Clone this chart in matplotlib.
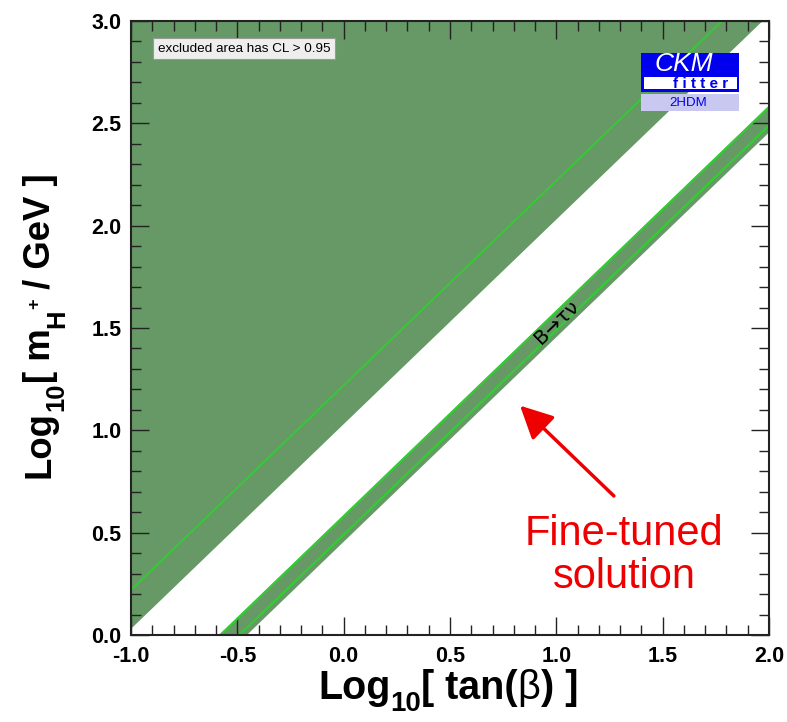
import matplotlib
matplotlib.use("Agg")
import matplotlib.pyplot as plt
from matplotlib.ticker import MultipleLocator, FormatStrFormatter
from matplotlib.patches import Rectangle
from matplotlib import font_manager

plt.rcParams['font.family'] = ['Liberation Sans', 'DejaVu Sans']
plt.rcParams['axes.unicode_minus'] = False

# ---- data ----
log_tanb = [-1.0, 2.0]                  # x end points of all boundaries
excl_edge = [0.03, 3.03]                # upper-left excluded region boundary
excl_line = [0.22, 3.22]                # light green contour inside excluded region
band_upper = [-0.41, 2.59]              # B->tau nu band upper edge
band_line_upper = [-0.42, 2.58]         # light green contour (upper)
band_line_lower = [-0.51, 2.49]         # light green contour (lower)
band_lower = [-0.54, 2.46]              # B->tau nu band lower edge
x_lim = [-1.0, 2.0]
y_lim = [0.0, 3.0]

dark = '#669966'
light = '#33cc33'
W, H = 787, 722

fig = plt.figure(figsize=(W / 100, H / 100), dpi=100)
ax = fig.add_axes([131/W, 1-635/H, (769-131)/W, (635-21)/H])

ax.fill_between(log_tanb, excl_edge, [y_lim[1] + 1, y_lim[1] + 1], color=dark, lw=0)
ax.plot(log_tanb, excl_line, color=light, lw=1.3)
ax.fill_between(log_tanb, band_lower, band_upper, color=dark, lw=0)
ax.plot(log_tanb, band_line_upper, color=light, lw=1.6)
ax.plot(log_tanb, band_line_lower, color=light, lw=1.6)

ax.set_xlim(x_lim)
ax.set_ylim(y_lim)

ax.xaxis.set_major_locator(MultipleLocator(0.5))
ax.xaxis.set_minor_locator(MultipleLocator(0.1))
ax.yaxis.set_major_locator(MultipleLocator(0.5))
ax.yaxis.set_minor_locator(MultipleLocator(0.1))
ax.xaxis.set_major_formatter(FormatStrFormatter('%.1f'))
ax.yaxis.set_major_formatter(FormatStrFormatter('%.1f'))
ax.tick_params(which='both', direction='in', top=True, right=True, width=1.0, color='#222222')
ax.tick_params(which='major', length=13, labelsize=15.5)
ax.tick_params(axis='x', which='major', pad=8)
ax.tick_params(axis='y', which='major', pad=7)
ax.tick_params(which='minor', length=7)
for lab in ax.get_xticklabels() + ax.get_yticklabels():
    lab.set_fontweight('bold')
for s in ax.spines.values():
    s.set_linewidth(1.5)
    s.set_color('#222222')

# ---- axis titles composed from pieces (low subscripts, as in the reference) ----
lab_family = ['Liberation Sans']
renderer = fig.canvas.get_renderer()


def compose(segs, x0, y0, size, target_len, vertical=False):
    """segs: (text, size ratio, drop ratio, weight, advance)"""
    def build(sz):
        arts = []
        pos = 0.0
        for txt, r, drop, wt, adv in segs:
            d = drop * sz * 100 / 72.0
            if vertical:
                t = fig.text((x0 + d) / W, (y0 + pos) / H, txt, fontsize=sz * r, rotation=90,
                             rotation_mode='anchor', ha='left', va='baseline',
                             family=lab_family, weight=wt)
                ext = t.get_window_extent(renderer).height
            else:
                t = fig.text((x0 + pos) / W, (y0 - d) / H, txt, fontsize=sz * r,
                             ha='left', va='baseline', family=lab_family, weight=wt)
                ext = t.get_window_extent(renderer).width
            pos += ext * adv
            arts.append(t)
        return arts, pos
    arts, total = build(size)
    for a in arts:
        a.remove()
    arts, total = build(size * target_len / total)
    return arts


compose([('Log', 1.0, 0.0, 'bold', 1.0),
         ('10', 0.7, 0.30, 'bold', 1.0),
         ('[ tan(', 1.0, 0.0, 'bold', 1.0),
         ('β', 1.0, 0.0, 'normal', 1.0),
         (') ]', 1.0, 0.0, 'bold', 1.0)],
        318, H - 699, 30, 260)

compose([('Log', 1.0, 0.0, 'bold', 1.0),
         ('10', 0.7, 0.38, 'bold', 1.0),
         ('[ m', 1.0, 0.0, 'bold', 1.0),
         ('H', 0.7, 0.38, 'bold', 1.0),
         ('+', 0.5, -0.30, 'bold', 1.0),
         (' / GeV ]', 1.0, 0.0, 'bold', 1.0)],
        50, H - 478, 30, 305, vertical=True)

# legend-like note
ax.text(-0.873, 2.865, 'excluded area has CL > 0.95',
        fontsize=9.7, va='center', ha='left',
        bbox=dict(boxstyle='square,pad=0.35', fc='#eeeeee', ec='#999999', lw=0.8))

# CKMfitter logo (figure pixel coordinates)
def frect(x0, y0, x1, y1, **kw):
    fig.patches.append(Rectangle((x0/W, 1-y1/H), (x1-x0)/W, (y1-y0)/H,
                                 transform=fig.transFigure, **kw))
frect(641, 53, 739, 92, fc='#0000ee', ec='none')
frect(644, 77, 737, 89, fc='white', ec='none')
frect(641, 94, 739, 111, fc='#c8c8f0', ec='none')
fig.text(684/W, 1-64/H, 'CKM', color='white', fontsize=19, style='italic',
         ha='center', va='center')
fig.text(701/W, 1-83.5/H, 'f i t t e r', color='#0000ee', fontsize=11, fontweight='bold',
         ha='center', va='center')
fig.text(688/W, 1-103/H, '2HDM', color='#0000ee', fontsize=9.5, ha='center', va='center')

# B -> tau nu label
ax.text(1.0, 1.53, 'B→τν', rotation=44, fontsize=14.5, ha='center', va='center',
        rotation_mode='anchor', family=['DejaVu Sans'])

# Fine-tuned arrow & text
ax.annotate('', xy=(0.82, 1.13), xytext=(1.28, 0.67),
            arrowprops=dict(arrowstyle='-|>,head_length=2.0,head_width=1.0', color='#ee0000', lw=2.5))
ax.text(1.318, 0.39, 'Fine-tuned\nsolution', color='#ee0000', fontsize=30, ha='center', va='center',
        linespacing=1.1)

fig.savefig('out.png', dpi=100)
